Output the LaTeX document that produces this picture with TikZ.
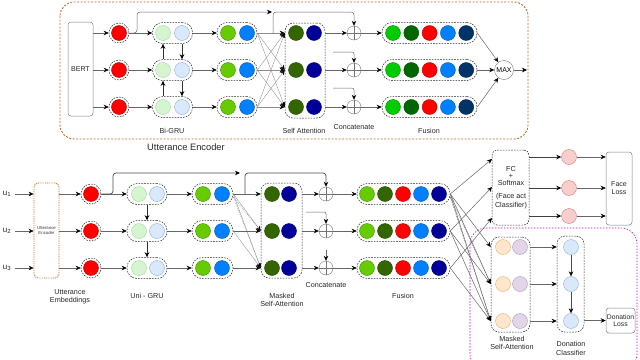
\documentclass[tikz,border=0pt]{standalone}
\usepackage{fontspec}
\setmainfont{Liberation Sans}
\usetikzlibrary{arrows.meta}
\definecolor{lgreen}{HTML}{D5F5D0}
\definecolor{lgreenD}{HTML}{A8D8A0}
\definecolor{lblue}{HTML}{DAE8FC}
\definecolor{lblueD}{HTML}{8FAFD8}
\definecolor{cgreen}{HTML}{66CC00}
\definecolor{cblue}{HTML}{007FFF}
\definecolor{dgreen}{HTML}{336600}
\definecolor{navy}{HTML}{000099}
\definecolor{fgreen}{HTML}{00CC00}
\definecolor{fdgreen}{HTML}{006600}
\definecolor{fred}{HTML}{FF0000}
\definecolor{fnavy}{HTML}{003366}
\definecolor{pinkc}{HTML}{F8CECC}
\definecolor{pinkD}{HTML}{D08080}
\definecolor{peach}{HTML}{FFE6CC}
\definecolor{peachD}{HTML}{E8B060}
\definecolor{lilac}{HTML}{E1D5E7}
\definecolor{lilacD}{HTML}{B098C0}
\definecolor{encor}{HTML}{B8702A}
\definecolor{mag}{HTML}{CC00CC}
\begin{document}
\begin{tikzpicture}[x=1pt,y=-1pt,
  ln/.style={draw=black!60,line width=0.5pt},
  arr/.style={ln,-{Stealth[black,length=5pt,width=4.5pt,inset=1.6pt]}},
  dsh/.style={dash pattern=on 1.6pt off 1.2pt},
  dot/.style={circle,inner sep=0pt,minimum size=15pt,line width=0.4pt},
  ring/.style={circle,draw=black!85,dsh,inner sep=0pt,minimum size=20pt,line width=0.5pt},
  pill/.style={rectangle,draw=black!85,dsh,rounded corners=10pt,minimum height=21pt,inner sep=0pt,line width=0.5pt},
  tall/.style={rectangle,draw=black!85,dsh,rounded corners=8pt,inner sep=0pt,line width=0.5pt},
  oplus/.style={circle,draw=black!55,minimum size=14pt,inner sep=0pt,line width=0.4pt,
     path picture={\draw[black!55,line width=0.4pt] (path picture bounding box.north) -- (path picture bounding box.south) (path picture bounding box.west) -- (path picture bounding box.east);}},
  lbl/.style={font=\fontsize{7.2}{8.4}\selectfont,align=center,text=black!85},
  lossbox/.style={rectangle,draw=black!50,rounded corners=3pt,inner sep=0pt,line width=0.5pt,font=\fontsize{7}{8}\selectfont,align=center,text=black!85},
]
\useasboundingbox (0,0) rectangle (640,359);

% ================= TOP: Utterance Encoder =================
\draw[encor,line width=0.9pt,dash pattern=on 2pt off 1.5pt,rounded corners=14pt] (60,2) rectangle (528,139);
\node[lbl,font=\fontsize{9.3}{10}\selectfont] (tenc) at (186,147) {Utterance Encoder};
\node[lossbox,minimum width=25pt,minimum height=94pt] (bert) at (80.5,69) {BERT};
\node[tall,minimum width=40pt,minimum height=95pt] (tsa) at (305,70.5) {};
\node[circle,draw=black!55,minimum size=19pt,inner sep=0pt,line width=0.4pt,font=\fontsize{7}{8}\selectfont] (max) at (504,70) {MAX};
\coordinate (maxout) at (527,70);
\draw[arr] (max) -- (maxout);

\foreach \i/\y in {1/33,2/70,3/107}{
  \node[dot,fill=fred,draw=fred!70!black] (tr\i) at (119,\y) {};
  \node[ring] (trr\i) at (119,\y) {};
  \node[pill,minimum width=40pt] (tg\i) at (172.5,\y) {};
  \node[dot,fill=lgreen,draw=lgreenD] (tga\i) at (163,\y) {};
  \node[dot,fill=lblue,draw=lblueD] (tgb\i) at (182,\y) {};
  \node[pill,minimum width=40pt] (th\i) at (237,\y) {};
  \node[dot,fill=cgreen,draw=cgreen!70!black] (tha\i) at (228,\y) {};
  \node[dot,fill=cblue,draw=cblue!70!black] (thb\i) at (247,\y) {};
  \node[dot,fill=dgreen,draw=dgreen!70!black] (tsa\i) at (296,\y) {};
  \node[dot,fill=navy,draw=navy!70!black] (tsb\i) at (314,\y) {};
  \node[oplus] (tc\i) at (354,\y) {};
  \node[pill,minimum width=95pt] (tf\i) at (429.5,\y) {};
  \foreach \c [count=\k] in {fgreen,fdgreen,fred,cblue,fnavy}
    \node[dot,fill=\c,draw=\c!70!black] (tf\i c\k) at ({393+18.3*(\k-1)},\y) {};
  \draw[arr] (bert.east |- tr\i) -- (trr\i.west);
  \draw[arr] (trr\i.east) -- (tg\i.west);
  \draw[arr] (tg\i.east) -- (th\i.west);
  \draw[arr] (tsa.east |- tc\i) -- (tc\i.west);
  \draw[arr] (tc\i.east) -- (tf\i.west);
  \draw[arr] (tf\i.east) -- (max);
}
\foreach \i in {1,2,3}{\foreach \j in {1,2,3}{
  \draw[arr,draw=black!45,line width=0.35pt] (th\i.east) -- (tsa.west |- th\j);
}}
% Bi-GRU internal arrows
\draw[arr,draw=black!80] (tga2.north |- tg2.north) -- (tga1.south |- tg1.south);
\draw[arr,draw=black!80] (tga3.north |- tg3.north) -- (tga2.south |- tg2.south);
\draw[arr,draw=black!80] (tgb1.south |- tg1.south) -- (tgb2.north |- tg2.north);
\draw[arr,draw=black!80] (tgb2.south |- tg2.south) -- (tgb3.north |- tg3.north);
% skip connections
\coordinate (tskA) at (272,12);
\draw[arr,rounded corners=3pt] (trr1.east) -- (137,33) |- (tskA);
\coordinate (tskB) at (273,33);
\draw[arr,rounded corners=3pt] (tskB) -- (273,12) -- (354,12) -- (tc1.north);
\coordinate (tc2in) at (333,52);
\draw[arr,rounded corners=2pt] (tc2in) -| (tc2.north);
\coordinate (tc3in) at (333,88);
\draw[arr,rounded corners=2pt] (tc3in) -| (tc3.north);
% labels
\node[lbl] (lbigru) at (172,131) {Bi-GRU};
\node[lbl] (lsat) at (304,131) {Self Attention};
\node[lbl] (lcat) at (354,127) {Concatenate};
\node[lbl] (lfus) at (429,131) {Fusion};

% ================= BOTTOM =================
\node[rectangle,draw=encor,dash pattern=on 0.9pt off 0.9pt,line width=0.8pt,rounded corners=4pt,minimum width=25pt,minimum height=95pt,inner sep=0pt,font=\fontsize{4.3}{5}\selectfont,align=center,text=black!80] (benc) at (46.5,230.5) {Utterance\\Encoder};
\node[tall,minimum width=41pt,minimum height=95pt] (bsa) at (281.5,230.5) {};

\foreach \i/\y in {1/194,2/231,3/268}{
  \node[font=\fontsize{8}{9}\selectfont,text=black!85] (u\i) at (7,\y) {u\textsubscript{\i}};
  \draw[arr] (u\i.east) -- (benc.west |- u\i);
  \node[dot,fill=fred,draw=fred!70!black] (br\i) at (91,\y) {};
  \node[ring] (brr\i) at (91,\y) {};
  \node[pill,minimum width=40pt] (bg\i) at (147,\y) {};
  \node[dot,fill=lgreen,draw=lgreenD] (bga\i) at (139,\y) {};
  \node[dot,fill=lblue,draw=lblueD] (bgb\i) at (157,\y) {};
  \node[pill,minimum width=41pt] (bh\i) at (212.5,\y) {};
  \node[dot,fill=cgreen,draw=cgreen!70!black] (bha\i) at (203,\y) {};
  \node[dot,fill=cblue,draw=cblue!70!black] (bhb\i) at (222,\y) {};
  \node[dot,fill=dgreen,draw=dgreen!70!black] (bsa\i) at (272,\y) {};
  \node[dot,fill=navy,draw=navy!70!black] (bsb\i) at (289,\y) {};
  \node[oplus] (bc\i) at (326,\y) {};
  \node[pill,minimum width=93pt] (bf\i) at (403.5,\y) {};
  \foreach \c [count=\k] in {cgreen,dgreen,fred,cblue,navy}
    \node[dot,fill=\c,draw=\c!70!black] (bf\i c\k) at ({367+18*(\k-1)},\y) {};
  \draw[arr] (benc.east |- br\i) -- (brr\i.west);
  \draw[arr] (brr\i.east) -- (bg\i.west);
  \draw[arr] (bg\i.east) -- (bh\i.west);
  \draw[arr] (bsa.east |- bc\i) -- (bc\i.west);
  \draw[arr] (bc\i.east) -- (bf\i.west);
}
% causal masked attention
\draw[arr] (bh1.east) -- (bsa.west |- bh1);
\draw[arr,draw=black!45,line width=0.35pt] (bh1.east) -- (bsa.west |- bh2);
\draw[arr,draw=black!45,line width=0.35pt] (bh1.east) -- (bsa.west |- bh3);
\draw[ln,draw=black!45,line width=0.35pt,dash pattern=on 1pt off 1pt] ([yshift=-3pt]bh1.east) -- (bsa.west |- bh2);
\draw[ln,draw=black!45,line width=0.35pt,dash pattern=on 1pt off 1pt] ([yshift=-3pt]bh1.east) -- (bsa.west |- bh3);
\draw[arr] (bh2.east) -- (bsa.west |- bh2);
\draw[arr,draw=black!45,line width=0.35pt] (bh2.east) -- (bsa.west |- bh3);
\draw[arr] (bh3.east) -- (bsa.west |- bh3);
% Uni-GRU arrows
\draw[arr,draw=black!80] (bg1.south) -- (bg2.north);
\draw[arr,draw=black!80] (bg2.south) -- (bg3.north);
% skip connections
\coordinate (bskA) at (240,173);
\draw[arr,draw=black!70,line width=0.7pt,rounded corners=3pt] (brr1.east) -- (113,194) |- (bskA);
\coordinate (bskB) at (245,194);
\draw[arr,draw=black!70,line width=0.7pt,rounded corners=3pt] (bskB) -- (245,173) -- (326,173) -- (bc1.north);
\coordinate (bc2in) at (306,212);
\draw[arr,rounded corners=2pt] (bc2in) -| (bc2.north);
\coordinate (bc3in) at (326,250);
\draw[arr] (bc3in) -- (bc3.north);
% labels
\node[lbl] (lemb) at (70,296.5) {Utterance\\Embeddings};
\node[lbl] (lugru) at (147,296) {Uni - GRU};
\node[lbl] (lmsa) at (282,300) {Masked\\Self-Attention};
\node[lbl] (lcat2) at (326,285) {Concatenate};
\node[lbl] (lfus2) at (403,296) {Fusion};

% ---- face act classifier ----
\node[tall,rounded corners=5pt,minimum width=37pt,minimum height=75pt,lbl] (fc) at (510.5,187.5) {};
\node[lbl] (fct) at (511,187.5) {FC\\[-1.5pt]+\\[-1.5pt]Softmax\\[5pt](Face act\\Classifier)};
\coordinate (fcin1) at (492,159);
\coordinate (fcin2) at (492,187);
\coordinate (fcin3) at (492,218);
\node[lossbox,minimum width=26pt,minimum height=73pt] (face) at (619,188.5) {Face\\Loss};
\foreach \i/\y in {1/157,2/188,3/216}{
  \node[dot,fill=pinkc,draw=pinkD] (pk\i) at (569,\y) {};
  \draw[arr,draw=black!75,line width=0.8pt] (fc.east |- pk\i) -- (pk\i.west);
  \draw[arr] (pk\i.east) -- (face.west |- pk\i);
}
\draw[arr] (bf1.east) -- (fcin1);
\draw[arr] (bf2.east) -- (fcin2);
\draw[arr] (bf3.east) -- (fcin3);

% ---- donation part ----
\draw[mag,line width=0.6pt,dash pattern=on 1.5pt off 1.5pt,rounded corners=16pt] (470,228) rectangle (637,370);
\node[tall,minimum width=39pt,minimum height=95pt] (sa2) at (510.5,284.5) {};
\node[tall,minimum width=27pt,minimum height=96pt] (don) at (570.5,284) {};
\node[lossbox,minimum width=29pt,minimum height=25pt,font=\fontsize{6.8}{7.6}\selectfont] (dloss) at (620.5,320.5) {Donation\\Loss};
\foreach \i/\y in {1/247,2/284,3/321}{
  \node[dot,fill=peach,draw=peachD] (pa\i) at (503,\y) {};
  \node[dot,fill=lilac,draw=lilacD] (pb\i) at (520,\y) {};
  \node[dot,fill=lblue,draw=lblueD] (dn\i) at (571,\y) {};
  \draw[arr] (sa2.east |- pa\i) -- (don.west |- pa\i);
}
\draw[arr,draw=black!70] (dn1) -- (dn2);
\draw[arr,draw=black!70] (dn2) -- (dn3);
\draw[arr] (don.east |- dloss) -- (dloss.west);
% fusion -> masked self-attention (causal)
\draw[arr] (bf1.east) -- (sa2.west |- pa1);
\draw[arr] (bf1.east) -- (sa2.west |- pa2);
\draw[arr] (bf1.east) -- (sa2.west |- pa3);
\draw[ln,draw=black!55,line width=0.4pt,dash pattern=on 1.5pt off 1pt] ([yshift=-3pt]bf1.east) -- (sa2.west |- pa2);
\draw[ln,draw=black!55,line width=0.4pt,dash pattern=on 1.5pt off 1pt] ([yshift=-3pt]bf1.east) -- (sa2.west |- pa3);
\draw[arr] (bf2.east) -- (sa2.west |- pa2);
\draw[arr] (bf2.east) -- (sa2.west |- pa3);
\draw[arr] (bf3.east) -- (sa2.west |- pa3);
\node[lbl] (lmsa2) at (512,343) {Masked\\Self-Attention};
\node[lbl] (ldon) at (571,348.5) {Donation\\Classifier};
\end{tikzpicture}
\end{document}
